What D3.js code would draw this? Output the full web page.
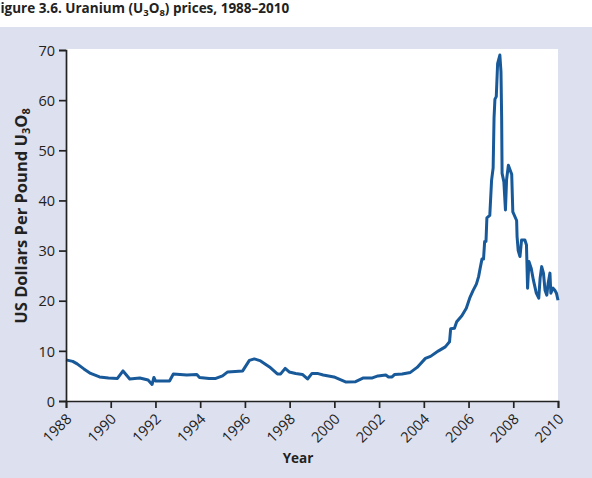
<!DOCTYPE html>
<html>
<head>
<meta charset="utf-8">
<script src="https://cdn.jsdelivr.net/npm/d3@7"></script>
<style>
body { margin:0; padding:0; background:#ffffff; }
svg { display:block; font-family:"Open Sans", "Noto Sans", sans-serif; }
</style>
</head>
<body>
<svg id="chart"></svg>
<script>
// decimal years
var years = [1988.0,1988.3,1988.5,1988.8,1989.1,1989.5,1989.9,1990.3,1990.55,1990.85,
    1991.3,1991.67,1991.85,1991.93,1992.0,1992.63,1992.8,1993.4,1993.85,1993.97,
    1994.4,1994.7,1995.0,1995.23,1995.9,1996.2,1996.42,1996.7,1997.1,1997.45,
    1997.6,1997.8,1997.98,1998.27,1998.57,1998.8,1999.0,1999.24,1999.5,1999.98,
    2000.5,2000.95,2001.3,2001.7,2001.95,2002.3,2002.42,2002.58,2002.7,2003.03,
    2003.4,2003.7,2004.07,2004.3,2004.66,2004.96,2005.15,2005.2,2005.37,2005.47,
    2005.7,2005.9,2006.05,2006.2,2006.35,2006.45,2006.52,2006.6,2006.67,2006.72,
    2006.78,2006.82,2006.95,2007.03,2007.1,2007.14,2007.18,2007.24,2007.3,2007.4,
    2007.45,2007.48,2007.5,2007.58,2007.65,2007.7,2007.78,2007.93,2007.98,2008.15,
    2008.17,2008.22,2008.3,2008.37,2008.52,2008.59,2008.64,2008.7,2008.8,2008.9,
    2009.03,2009.14,2009.2,2009.27,2009.35,2009.42,2009.5,2009.56,2009.64,2009.68,
    2009.78,2009.86,2009.93,2010.0];

// US dollars per pound, same order as years
var prices = [8.2,7.9,7.4,6.4,5.5,4.8,4.6,4.5,6.0,4.4,
    4.6,4.2,3.3,4.7,4.0,4.0,5.4,5.2,5.3,4.7,
    4.5,4.5,5.0,5.8,6.0,8.1,8.4,8.0,6.8,5.4,
    5.4,6.5,5.8,5.5,5.3,4.4,5.5,5.5,5.2,4.8,
    3.8,3.85,4.6,4.6,5.0,5.2,4.8,4.8,5.3,5.4,
    5.7,6.7,8.5,8.9,10.0,10.8,11.8,14.4,14.5,15.8,
    17.0,18.5,20.5,22.0,23.3,24.8,26.5,28.3,28.3,31.8,
    31.8,36.5,37.0,44.0,46.5,56.4,60.2,60.7,67.3,69.0,
    65.7,56.7,45.4,43.7,38.1,44.1,47.0,45.2,37.7,36.0,
    32.8,30.0,28.8,32.1,32.1,31.1,22.5,27.8,26.5,24.1,
    21.5,20.5,24.5,26.8,25.5,22.1,21.1,23.5,25.5,21.5,
    22.5,22.1,21.5,20.1];

var xTicks = [1988,1990,1992,1994,1996,1998,2000,2002,2004,2006,2008,2010];
var yTicks = [0,10,20,30,40,50,60,70];

var drawChart = function(target)
{
    var screen = {width:592, height:478};
    var margins = {top:50, bottom:77, left:66, right:34};

    var graph =
    {
        width:screen.width-margins.left-margins.right,
        height:screen.height-margins.top-margins.bottom
    };

    var svg = d3.select(target)
        .attr("width",screen.width)
        .attr("height",screen.height);

    // lavender panel under the title
    svg.append("rect")
        .attr("x",0)
        .attr("y",27)
        .attr("width",screen.width)
        .attr("height",screen.height-27)
        .attr("fill","#dde0ee");

    // title with subscripts (the F is cut at the left edge, like the source)
    var title = svg.append("text")
        .attr("x",-7)
        .attr("y",13)
        .attr("font-size","13.5px")
        .attr("font-weight","bold")
        .attr("fill","#222");
    title.append("tspan").text("Figure 3.6. Uranium (U");
    title.append("tspan").attr("font-size","9.5px").attr("dy",3).text("3");
    title.append("tspan").attr("dy",-3).text("O");
    title.append("tspan").attr("font-size","9.5px").attr("dy",3).text("8");
    title.append("tspan").attr("dy",-3).text(") prices, 1988\u20132010");

    var xScale = d3.scaleLinear()
        .domain([1988,2010])
        .range([0,graph.width]);

    var yScale = d3.scaleLinear()
        .domain([0,70])
        .range([graph.height,0]);

    var g = svg.append("g")
        .attr("transform","translate("+margins.left+","+margins.top+")");

    // white plotting area
    g.append("rect")
        .attr("x",0)
        .attr("y",-1)
        .attr("width",graph.width)
        .attr("height",graph.height+1)
        .attr("fill","#ffffff");

    var line = d3.line()
        .x(function(d){ return xScale(d[0]); })
        .y(function(d){ return yScale(d[1]); });

    var points = years.map(function(yr,i){ return [yr,prices[i]]; });

    g.append("path")
        .datum(points)
        .attr("d",line)
        .attr("fill","none")
        .attr("stroke","#18599a")
        .attr("stroke-width",3)
        .attr("stroke-linejoin","round");

    // axes
    var xAxis = d3.axisBottom(xScale)
        .tickValues(xTicks)
        .tickFormat(d3.format("d"))
        .tickSizeOuter(0)
        .tickSize(7);

    var yAxis = d3.axisLeft(yScale)
        .tickValues(yTicks)
        .tickSizeOuter(0)
        .tickSize(7);

    var xg = g.append("g")
        .attr("transform","translate(0,"+graph.height+")")
        .call(xAxis);

    xg.selectAll("text")
        .attr("x",0)
        .attr("y",0)
        .attr("dy",0)
        .attr("text-anchor","end")
        .attr("transform","translate(6,19) rotate(-45)");

    var yg = g.append("g")
        .call(yAxis);

    yg.selectAll("text")
        .attr("x",-11)
        .attr("dy","0.36em");

    svg.selectAll(".tick text")
        .attr("font-size","14.5px")
        .attr("font-family","'Open Sans', sans-serif")
        .attr("fill","#222");

    svg.selectAll(".domain, .tick line")
        .attr("stroke","#222")
        .attr("stroke-width",1.7);

    // axis titles
    var yLabel = svg.append("text")
        .attr("transform","translate(27,216) rotate(-90)")
        .attr("text-anchor","middle")
        .attr("font-size","16.5px")
        .attr("font-weight","bold")
        .attr("fill","#222");
    yLabel.append("tspan").text("US Dollars Per Pound U");
    yLabel.append("tspan").attr("font-size","11px").attr("dy",3).text("3");
    yLabel.append("tspan").attr("dy",-3).text("O");
    yLabel.append("tspan").attr("font-size","11px").attr("dy",3).text("8");

    svg.append("text")
        .attr("x",298)
        .attr("y",463)
        .attr("text-anchor","middle")
        .attr("font-size","13.5px")
        .attr("font-weight","bold")
        .attr("fill","#222")
        .text("Year");
};

drawChart("#chart");
</script>
</body>
</html>
